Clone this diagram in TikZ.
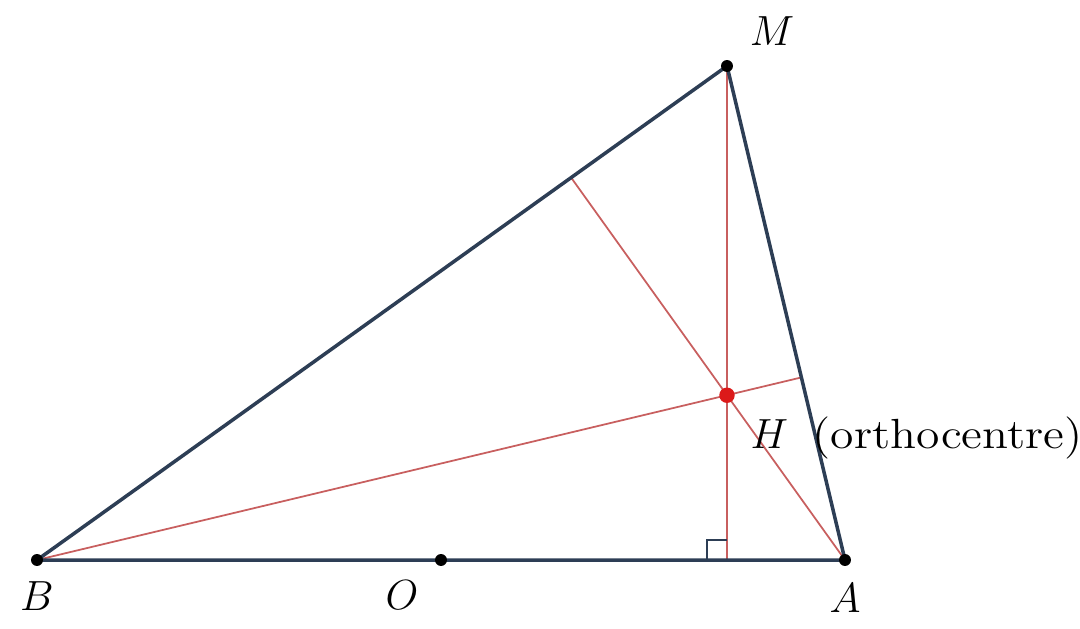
\documentclass[tikz,border=0pt]{standalone}
\usepackage{graphicx}
\usetikzlibrary{calc, intersections}
\definecolor{sideblue}{RGB}{45,62,85}
\definecolor{altred}{RGB}{200,95,95}
\definecolor{hred}{RGB}{220,25,25}

\begin{document}
\begin{tikzpicture}[font=\fontsize{12}{14}\selectfont]
\useasboundingbox (0,0) rectangle (10.8,6.28);
% Vertices of the triangle
\coordinate (B) at (0.37,0.68);
\coordinate (A) at (8.45,0.68);
\coordinate (M) at (7.27,5.62);
\coordinate (O) at ($(B)!0.5!(A)$);
% Feet of the three altitudes
\coordinate (hM) at ($(B)!(M)!(A)$);
\coordinate (hA) at ($(B)!(A)!(M)$);
\coordinate (hB) at ($(M)!(B)!(A)$);
% Altitudes
\draw[altred,line width=.5pt,name path=altM] (M) -- (hM);
\draw[altred,line width=.5pt,name path=altA] (A) -- (hA);
\draw[altred,line width=.5pt] (B) -- (hB);
% Get their intersection
\path [name intersections={of=altM and altA,by={H}}];
% Right angle at the foot from M
\draw[sideblue,line width=.5pt] ($(hM)+(-0.2,0)$) -- ++(0,0.2) -- ++(0.2,0);
% Sides of the triangle
\draw[sideblue,line width=1pt] (B) -- (A) -- (M) -- cycle;
% Dots
\fill (B) circle (1.7pt);
\fill (A) circle (1.7pt);
\fill (M) circle (1.7pt);
\fill (O) circle (1.7pt);
\fill[hred] (H) circle (2.2pt);
% Labels
\node (Mlbl) at ($(M)+(0.45,0.35)$) {$M$};
\node (Albl) at ($(A)+(0,-0.38)$) {$A$};
\node (Blbl) at ($(B)+(0,-0.36)$) {$B$};
\node (Olbl) at ($(O)+(-0.39,-0.35)$) {$O$};
\node[anchor=base west,inner sep=0pt] (Hlbl) at ($(H)+(0.23,-0.53)$) {$H$\hspace{7pt}\scalebox{1.13}[1]{(orthocentre)}};
\end{tikzpicture}
\end{document}
